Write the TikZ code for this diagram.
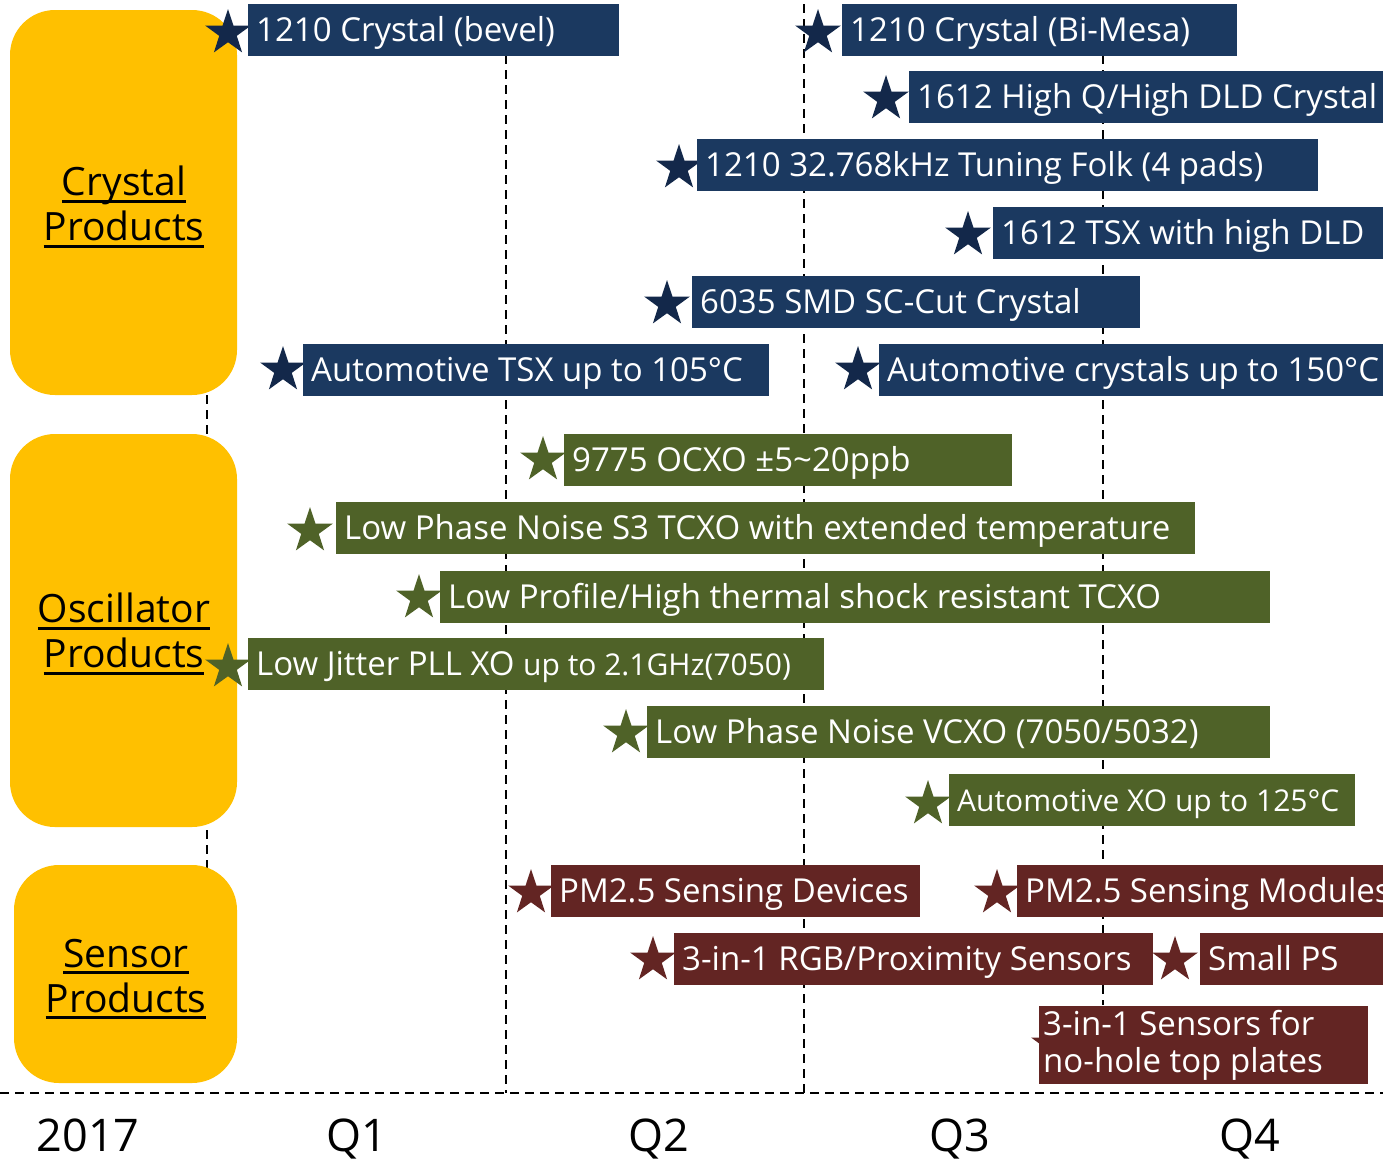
\documentclass[tikz,border=0pt]{standalone}
\usepackage{fontspec}
\setmainfont{Open Sans}
\usetikzlibrary{shapes.geometric}
\definecolor{prodyellow}{HTML}{FFC000}
\definecolor{navybox}{HTML}{1B3960}
\definecolor{navystar}{HTML}{13284A}
\definecolor{olivebox}{HTML}{4F6228}
\definecolor{redbox}{HTML}{632523}
\newcommand\boxtxt[2]{\makebox[#1pt][l]{\hspace{8pt}#2}}
\newcommand\myul[1]{\setbox0\hbox{#1}\rlap{\rule[-7pt]{\wd0}{3.2pt}}\box0}
\tikzset{
  tagbox/.style={anchor=north west, inner sep=0pt, minimum height=52pt,
    text height=26pt, text depth=4pt, text=white, font=\fontsize{33}{38}\selectfont},
  bluetag/.style={tagbox, fill=navybox},
  greentag/.style={tagbox, fill=olivebox},
  redtag/.style={tagbox, fill=redbox},
  starmark/.style={star, star points=5, star point ratio=2.6, minimum size=48pt,
    inner sep=0pt, draw=none},
  bluestar/.style={starmark, fill=navystar},
  greenstar/.style={starmark, fill=olivebox},
  redstar/.style={starmark, fill=redbox},
  prodbox/.style={fill=prodyellow, rounded corners=45pt, inner sep=0pt,
    minimum width=227pt},
  prodtext/.style={align=center, font=\fontsize{39}{45}\selectfont, inner sep=0pt},
  guide/.style={line width=2.6pt, dash pattern=on 9pt off 6pt},
  axislbl/.style={anchor=base, font=\fontsize{45}{50}\selectfont}
}
\begin{document}
\begin{tikzpicture}[x=1pt,y=-1pt]
\useasboundingbox (0,0) rectangle (1383,1160);
\clip (0,0) rectangle (1383,1160);
% guides
\draw[guide] (207,380) -- (207,880);
\draw[guide] (506,55) -- (506,1093);
\draw[guide] (804,4) -- (804,1093);
\draw[guide] (1103,55) -- (1103,1005);
\draw[guide] (0,1093) -- (1383,1093);
% product boxes
\node[prodbox, minimum height=385pt] (pc) at (123.5,202.5) {};
\node[prodtext] (pct) at (124,207) {\myul{Crystal}\\\myul{Products}};
\node[prodbox, minimum height=393pt] (po) at (123.5,630.5) {};
\node[prodtext] (pot) at (124,634) {\myul{Oscillator}\\\myul{Products}};
\node[prodbox, minimum width=223pt, minimum height=218pt] (ps) at (125.5,974) {};
\node[prodtext] (pst) at (126,979) {\myul{Sensor}\\\myul{Products}};
% axis labels
\node[axislbl] (y17) at (88,1151) {2017};
\node[axislbl] (q1) at (357,1151) {Q1};
\node[axislbl] (q2) at (659,1151) {Q2};
\node[axislbl] (q3) at (960,1151) {Q3};
\node[axislbl] (q4) at (1250,1151) {Q4};
% stars
\node[bluestar] (s1) at (228,33) {};
\node[bluestar] (s2) at (818,33) {};
\node[bluestar] (s3) at (886,99) {};
\node[bluestar] (s4) at (679,168) {};
\node[bluestar] (s5) at (968,235) {};
\node[bluestar] (s6) at (667,304) {};
\node[bluestar] (s7) at (283,370) {};
\node[bluestar] (s8) at (858,370) {};
\node[greenstar] (t1) at (543,460) {};
\node[greenstar] (t2) at (310,531) {};
\node[greenstar] (t3) at (419,598) {};
\node[greenstar] (t4) at (228,667) {};
\node[greenstar] (t5) at (626,733) {};
\node[greenstar] (t6) at (928,804) {};
\node[redstar] (u1) at (531,893) {};
\node[redstar] (u2) at (997,893) {};
\node[redstar] (u3) at (653,960) {};
\node[redstar] (u4) at (1175,960) {};
\node[redstar] (u5) at (1054,1045) {};
% blue tags
\node[bluetag] (b1) at (248,4) {\boxtxt{371}{1210 Crystal (bevel)}};
\node[bluetag] (b2) at (842,4) {\boxtxt{395}{1210 Crystal (Bi-Mesa)}};
\node[bluetag] (b3) at (909,71) {\boxtxt{480}{1612 High Q/High DLD Crystal}};
\node[bluetag] (b4) at (697,139) {\boxtxt{621}{1210 32.768kHz Tuning Folk (4 pads)}};
\node[bluetag] (b5) at (993,207) {\boxtxt{395}{1612 TSX with high DLD}};
\node[bluetag] (b6) at (692,276) {\boxtxt{448}{6035 SMD SC-Cut Crystal}};
\node[bluetag] (b7) at (303,344) {\boxtxt{466}{Automotive TSX up to 105°C}};
\node[bluetag] (b8) at (879,344) {\boxtxt{510}{Automotive crystals up to 150°C}};
% green tags
\node[greentag] (g1) at (564,434) {\boxtxt{448}{9775 OCXO ±5\textasciitilde20ppb}};
\node[greentag] (g2) at (336,502) {\boxtxt{859}{Low Phase Noise S3 TCXO with extended temperature}};
\node[greentag] (g3) at (440,571) {\boxtxt{830}{Low Profile/High thermal shock resistant TCXO}};
\node[greentag] (g4) at (248,638) {\boxtxt{576}{Low Jitter PLL XO {\fontsize{30}{34}\selectfont up to 2.1GHz(7050)}}};
\node[greentag] (g5) at (647,706) {\boxtxt{623}{Low Phase Noise VCXO (7050/5032)}};
\node[greentag] (g6) at (949,774) {\boxtxt{406}{\fontsize{30}{34}\selectfont Automotive XO up to 125°C}};
% red tags
\node[redtag] (r1) at (551,865) {\boxtxt{369}{PM2.5 Sensing Devices}};
\node[redtag] (r2) at (1017,865) {\boxtxt{370}{PM2.5 Sensing Modules}};
\node[redtag] (r3) at (674,933) {\boxtxt{479}{3-in-1 RGB/Proximity Sensors}};
\node[redtag] (r4) at (1200,933) {\boxtxt{183}{Small PS}};
\node[redtag, minimum height=78pt, text height=, text depth=] (r5) at (1039,1006)
  {\parbox[c]{329pt}{\fontsize{33}{37}\selectfont\hspace*{4pt}3-in-1 Sensors for\\\hspace*{4pt}no-hole top plates}};
\end{tikzpicture}
\end{document}
